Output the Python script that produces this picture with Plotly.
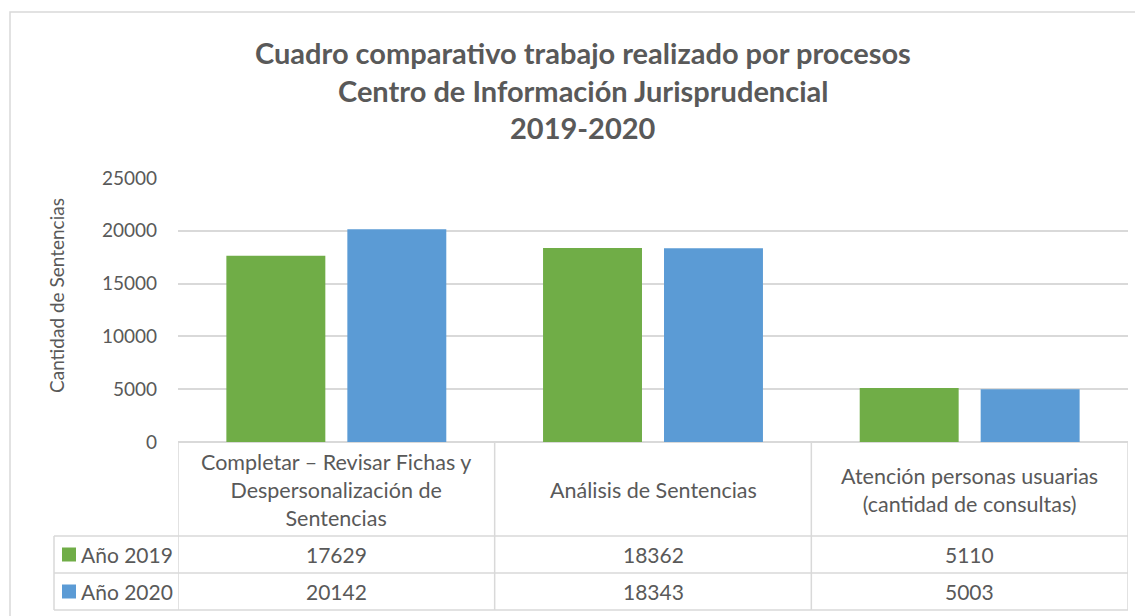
import plotly.graph_objects as go

categories = [
    "Completar – Revisar Fichas y<br>Despersonalización de<br>Sentencias",
    "Análisis de Sentencias",
    "Atención personas usuarias<br>(cantidad de consultas)",
]
series_names = ["Año 2019", "Año 2020"]
values_2019 = [17629, 18362, 5110]
values_2020 = [20142, 18343, 5003]
colors = ["#70ad47", "#5b9bd5"]
y_ticks = [0, 5000, 10000, 15000, 20000, 25000]
title_lines = ["Cuadro comparativo trabajo realizado por procesos",
               "Centro de Información Jurisprudencial",
               "2019-2020"]
y_title = "Cantidad de Sentencias"

FONT = "Lato"
TXT = "#595959"
LINE = "#d9d9d9"
OFF = 8  # page body margin

x_idx = list(range(len(categories)))

fig = go.Figure()
fig.add_trace(go.Bar(x=x_idx, y=values_2019, name=series_names[0],
                     marker=dict(color=colors[0], line=dict(width=0))))
fig.add_trace(go.Bar(x=x_idx, y=values_2020, name=series_names[1],
                     marker=dict(color=colors[1], line=dict(width=0))))

W, H = 1143 - OFF, 616 - OFF
L = 178 - OFF
R = W - (1128 - OFF)
T = 178 - OFF
B = H - (442 - OFF)
plot_h = H - T - B
plot_w = W - L - R


def py(pix):
    return ((442 - OFF) - (pix - OFF)) / plot_h


def px(pix):
    return ((pix - OFF) - L) / plot_w


shapes = []
annotations = []

shapes.append(dict(type="rect", xref="paper", yref="paper",
                   x0=px(10), x1=px(1170), y0=py(660), y1=py(12),
                   line=dict(color=LINE, width=1.5), layer="below"))

row_top = [442, 536, 573, 610]
for b in [-0.5, 0.5, 1.5, 2.5]:
    shapes.append(dict(type="line", xref="x", yref="paper", x0=b, x1=b,
                       y0=py(442), y1=py(610), line=dict(color=LINE, width=1.5)))
for r in row_top[1:]:
    shapes.append(dict(type="line", xref="paper", yref="paper",
                       x0=px(54), x1=1, y0=py(r), y1=py(r),
                       line=dict(color=LINE, width=1.5)))
shapes.append(dict(type="line", xref="paper", yref="paper",
                   x0=px(54), x1=px(54), y0=py(536), y1=py(610),
                   line=dict(color=LINE, width=1.5)))

for i, c in enumerate(categories):
    annotations.append(dict(x=i, xref="x", y=py(490), yref="paper", text=c,
                            showarrow=False, font=dict(family=FONT, size=21.5, color=TXT),
                            align="center", yanchor="middle", xanchor="center"))

rows = [values_2019, values_2020]
for k, vals in enumerate(rows):
    yc = py((row_top[k + 1] + row_top[k + 2]) / 2)
    for i, v in enumerate(vals):
        annotations.append(dict(x=i, xref="x", y=yc, yref="paper", text=str(v),
                                showarrow=False, font=dict(family=FONT, size=21, color=TXT),
                                yanchor="middle", xanchor="center"))
    shapes.append(dict(type="rect", xref="paper", yref="paper",
                       x0=px(62), x1=px(76), y0=yc - 7 / plot_h, y1=yc + 7 / plot_h,
                       fillcolor=colors[k], line=dict(width=0)))
    annotations.append(dict(x=px(79), xref="paper", y=yc, yref="paper",
                            text=series_names[k], showarrow=False,
                            font=dict(family=FONT, size=21, color=TXT),
                            xanchor="left", yanchor="middle"))

annotations.append(dict(x=px(56), xref="paper", y=py(296), yref="paper",
                        text=y_title, textangle=-90, showarrow=False,
                        font=dict(family=FONT, size=19, color=TXT),
                        xanchor="center", yanchor="middle"))

for t, yy in zip(title_lines, [52, 90, 128]):
    annotations.append(dict(x=px(583), xref="paper", y=py(yy), yref="paper",
                            text="<b>%s</b>" % t, showarrow=False,
                            font=dict(family=FONT, size=29, color=TXT),
                            xanchor="center", yanchor="middle"))

fig.update_layout(
    width=W, height=H,
    margin=dict(l=L, r=R, t=T, b=B),
    paper_bgcolor="white", plot_bgcolor="white",
    showlegend=False,
    barmode="group", bargap=0.236, bargroupgap=0.182,
    font=dict(family=FONT, size=19, color=TXT),
    xaxis=dict(range=[-0.5, 2.5], showticklabels=False, showgrid=False,
               zeroline=False, showline=False, fixedrange=True),
    yaxis=dict(range=[0, 25000], tickvals=y_ticks, tickformat="d",
               showgrid=True, gridcolor=LINE,
               gridwidth=1.5, zeroline=True, zerolinecolor=LINE, zerolinewidth=1.5,
               ticks="", ticklabelstandoff=20,
               tickfont=dict(family=FONT, size=19, color=TXT)),
    shapes=shapes, annotations=annotations,
)

fig.write_html("out.html")
